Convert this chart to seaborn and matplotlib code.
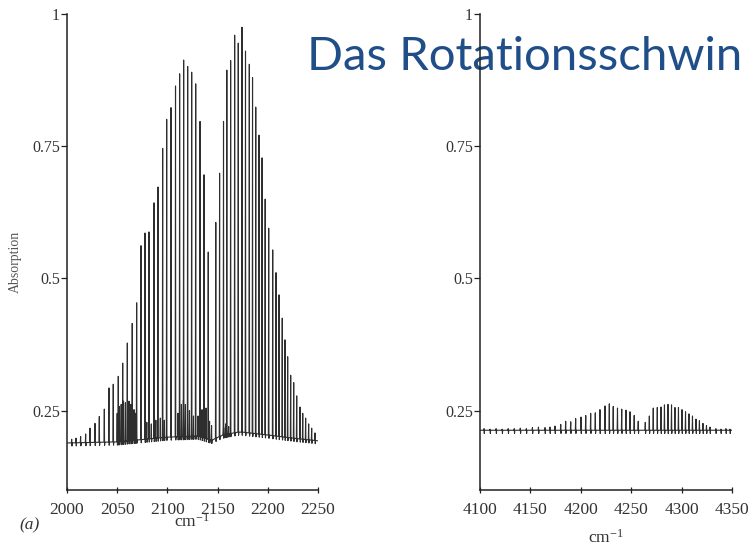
import numpy as np
import pandas as pd
import matplotlib
matplotlib.use("Agg")
import matplotlib.pyplot as plt
import seaborn as sns

# ---------------- data ----------------
# Fundamental band (a): P-branch line centres (cm^-1) and peak absorption
p_centres = [2004.7, 2009.0, 2013.6, 2018.6, 2022.9, 2027.9, 2032.2, 2037.2, 2041.8,
             2046.1, 2051.1, 2055.5, 2060.1, 2065.0, 2069.4, 2073.7, 2077.7, 2081.7,
             2086.7, 2090.6, 2095.3, 2099.3, 2103.6, 2108.1, 2112.2, 2116.2, 2120.2,
             2124.2, 2128.2, 2132.5, 2136.5, 2140.7]
p_peaks = [0.196, 0.198, 0.201, 0.206, 0.217, 0.226, 0.239, 0.253, 0.293,
           0.300, 0.315, 0.340, 0.378, 0.415, 0.454, 0.562, 0.586, 0.588,
           0.643, 0.673, 0.746, 0.801, 0.823, 0.864, 0.887, 0.913, 0.901,
           0.890, 0.868, 0.797, 0.696, 0.550]
# R-branch
r_centres = [2148.2, 2152.0, 2155.9, 2159.2, 2163.0, 2167.0, 2170.6, 2174.3, 2177.8,
             2181.6, 2184.8, 2188.0, 2191.2, 2194.3, 2197.4, 2200.9, 2204.9, 2208.2,
             2211.2, 2214.4, 2217.1, 2219.8, 2222.8, 2225.8, 2228.8, 2232.1, 2234.8,
             2237.7, 2240.7, 2243.7, 2247.0]
r_peaks = [0.606, 0.699, 0.797, 0.894, 0.912, 0.960, 0.945, 0.975, 0.930,
           0.905, 0.880, 0.824, 0.771, 0.728, 0.650, 0.595, 0.554, 0.511,
           0.469, 0.425, 0.384, 0.352, 0.317, 0.303, 0.278, 0.257, 0.245,
           0.236, 0.225, 0.217, 0.208]
# weak (hot band) lines forming the dark clusters near the baseline
weak_centres = [2050.0, 2052.2, 2054.0, 2056.3, 2058.2, 2061.8, 2063.6, 2066.8, 2068.2,
                2079.5, 2084.0, 2088.5, 2093.0, 2097.0,
                2110.5, 2114.0, 2116.0, 2118.0, 2122.0, 2126.0,
                2130.5, 2134.5, 2138.5, 2142.0, 2144.0,
                2156.0, 2158.0, 2161.0]
weak_peaks = [0.245, 0.258, 0.262, 0.268, 0.265, 0.268, 0.262, 0.252, 0.245,
              0.228, 0.225, 0.232, 0.236, 0.232,
              0.245, 0.262, 0.270, 0.262, 0.250, 0.240,
              0.240, 0.252, 0.255, 0.230, 0.222,
              0.218, 0.225, 0.220]
# baseline of the fundamental band
base1_x = [2000, 2050, 2100, 2130, 2144, 2155, 2172, 2200, 2225, 2250]
base1_y = [0.189, 0.191, 0.200, 0.202, 0.194, 0.204, 0.210, 0.204, 0.198, 0.193]

# Overtone band (b)
ot_centres = [4164.5, 4169.4, 4174.4, 4180.1, 4185.0, 4190.0, 4194.9, 4200.2, 4204.9,
              4209.8, 4214.4, 4219.0, 4224.0, 4228.3, 4232.2, 4236.4, 4240.6, 4244.8,
              4248.8, 4253.0, 4257.0,
              4264.0, 4268.0, 4271.9, 4275.9, 4279.6, 4283.0, 4286.5, 4290.0, 4293.4,
              4296.9, 4300.4, 4303.9, 4307.3, 4310.8, 4314.3, 4317.7, 4321.2, 4324.7,
              4328.2]
ot_peaks = [0.218, 0.219, 0.221, 0.224, 0.230, 0.229, 0.235, 0.238, 0.241,
            0.245, 0.246, 0.252, 0.259, 0.263, 0.258, 0.255, 0.253, 0.251,
            0.248, 0.241, 0.230,
            0.228, 0.240, 0.255, 0.256, 0.257, 0.261, 0.262, 0.261, 0.256,
            0.256, 0.252, 0.248, 0.244, 0.240, 0.234, 0.231, 0.226, 0.222,
            0.219]
ot_noise_centres = [4104, 4110, 4116, 4122, 4128, 4134, 4140, 4146, 4152, 4158,
                    4334, 4339, 4344, 4348]
ot_noise_peaks = [0.216, 0.215, 0.216, 0.215, 0.216, 0.216, 0.217, 0.216, 0.218, 0.219,
                  0.216, 0.215, 0.216, 0.215]
base2_x = [4100, 4350]
base2_y = [0.213, 0.213]

y_ticks = [0.25, 0.5, 0.75, 1.0]
y_tick_labels = ["0.25", "0.5", "0.75", "1"]
x1_ticks = [2000, 2050, 2100, 2150, 2200, 2250]
x2_ticks = [4100, 4150, 4200, 4250, 4300, 4350]
title_text = "Das Rotationsschwin"
y_label = "Absorption"
x_label = r"cm$^{-1}$"
panel_label = "(a)"


def stick_frame(centres, peaks, base_x, base_y, dip, xlim):
    c = np.asarray(centres, float)
    h = np.asarray(peaks, float)
    order = np.argsort(c)
    xs = [xlim[0]]
    ys = [np.interp(xlim[0], base_x, base_y)]
    for ci, hi in zip(c[order], h[order]):
        b = np.interp(ci, base_x, base_y)
        xs += [ci - 0.35, ci, ci + 0.25, ci + 0.55]
        ys += [b, hi, b - dip, b]
    xs.append(xlim[1])
    ys.append(np.interp(xlim[1], base_x, base_y))
    return pd.DataFrame({"x": xs, "y": ys})


sns.set_theme(style="ticks")
plt.rcParams["font.family"] = ["Liberation Serif", "DejaVu Serif"]
plt.rcParams["mathtext.fontset"] = "custom"
plt.rcParams["mathtext.rm"] = "Liberation Serif"
plt.rcParams["mathtext.it"] = "Liberation Serif:italic"

fig = plt.figure(figsize=(7.5, 5.48), dpi=100)
fig.patch.set_facecolor("white")

ax1 = fig.add_axes([0.0893, 0.1058, 0.3347, 0.8686])
ax2 = fig.add_axes([0.640, 0.1058, 0.336, 0.8686])

df1 = stick_frame(p_centres + r_centres + weak_centres,
                  p_peaks + r_peaks + weak_peaks,
                  base1_x, base1_y, 0.006, (2000, 2250))
df2 = stick_frame(ot_centres + ot_noise_centres,
                  ot_peaks + ot_noise_peaks,
                  base2_x, base2_y, 0.006, (4100, 4350))

line_col = "#2e2e2e"
sns.lineplot(data=df1, x="x", y="y", sort=False, estimator=None, ax=ax1,
             color=line_col, lw=0.8)
sns.lineplot(data=df2, x="x", y="y", sort=False, estimator=None, ax=ax2,
             color=line_col, lw=0.8)

for ax, xt, xl in [(ax1, x1_ticks, (2000, 2250)), (ax2, x2_ticks, (4100, 4350))]:
    ax.set_facecolor("none")
    ax.set_xlim(*xl)
    ax.set_ylim(0.1, 1.0)
    ax.set_xticks(xt)
    ax.set_xticklabels([str(t) for t in xt])
    ax.set_yticks(y_ticks)
    ax.set_yticklabels(y_tick_labels)
    ax.set_xlabel("")
    ax.set_ylabel("")
    sns.despine(ax=ax)
    for s in ("left", "bottom"):
        ax.spines[s].set_color("#222222")
        ax.spines[s].set_linewidth(1.1)
    ax.tick_params(axis="y", direction="out", length=4, width=0.9,
                   colors="#222222", labelsize=11.5, labelcolor="#333333", pad=1)
    ax.tick_params(axis="x", direction="inout", length=5, width=0.9,
                   colors="#222222", labelsize=12.5, labelcolor="#333333", pad=6)

fig.text(15 / 750, 1 - 262 / 548, y_label, rotation=90, ha="center", va="center",
         fontsize=10, color="#555555")
fig.text(192 / 750, 1 - 522 / 548, x_label, ha="center", va="center",
         fontsize=12.5, color="#333333")
fig.text(606 / 750, 1 - 538 / 548, x_label, ha="center", va="center",
         fontsize=12.5, color="#333333")
fig.text(30 / 750, 1 - 525 / 548, panel_label, ha="center", va="center",
         fontsize=12.5, style="italic", color="#333333")

fig.text(307 / 750, 1 - 70 / 548, title_text, ha="left", va="baseline",
         fontsize=34, color="#1f4e89", family=["Lato", "DejaVu Sans"],
         zorder=-1)

fig.savefig("out.png", dpi=100, facecolor="white")
